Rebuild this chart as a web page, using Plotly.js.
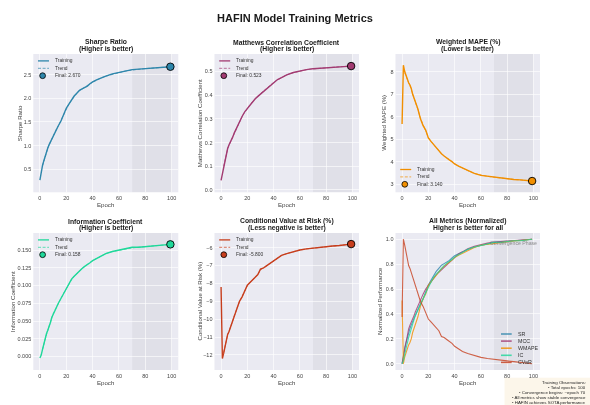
<!DOCTYPE html>
<html><head><meta charset="utf-8">
<script src="https://cdn.plot.ly/plotly-3.0.1.min.js"></script>
<style>html,body{margin:0;padding:0;background:#fff;}#chart{width:590px;height:405px;will-change:transform;}</style>
</head><body><div id="chart"></div>
<script>
// ---------------- data ----------------
const epochs = [0,1,2,3,4,5,6,7,8,9,10,12,14,16,18,20,22,24,26,28,30,32,34,36,38,40,43,46,50,55,60,65,70,75,80,85,90,95,99];

const sharpe      = [0.27,0.45,0.58,0.68,0.78,0.88,0.95,1.02,1.08,1.14,1.20,1.32,1.42,1.52,1.66,1.79,1.88,1.97,2.05,2.11,2.17,2.20,2.23,2.26,2.31,2.35,2.39,2.43,2.47,2.52,2.55,2.58,2.61,2.62,2.63,2.64,2.65,2.66,2.67];
const sharpeTrend = [null,null,0.57,0.68,0.78,0.87,0.95,1.01,1.08,1.14,1.20,1.32,1.42,1.53,1.66,1.78,1.88,1.96,2.04,2.11,2.16,2.20,2.24,2.27,2.31,2.34,2.39,2.43,2.47,2.51,2.55,2.58,2.60,2.62,2.63,2.64,2.65,2.66,2.67];

const mcc      = [0.04,0.07,0.10,0.13,0.155,0.175,0.19,0.20,0.21,0.225,0.24,0.265,0.29,0.31,0.33,0.345,0.36,0.375,0.385,0.395,0.405,0.415,0.425,0.435,0.445,0.455,0.466,0.474,0.486,0.496,0.503,0.508,0.512,0.514,0.516,0.518,0.520,0.522,0.523];
const mccTrend = [null,null,0.10,0.128,0.153,0.173,0.188,0.20,0.212,0.225,0.238,0.265,0.288,0.31,0.328,0.345,0.36,0.373,0.385,0.396,0.406,0.416,0.426,0.436,0.445,0.454,0.465,0.475,0.486,0.495,0.502,0.508,0.511,0.514,0.516,0.518,0.520,0.522,0.523];

const wmape      = [5.67,8.28,8.00,7.80,7.62,7.50,7.40,7.25,7.00,6.85,6.70,6.35,5.90,5.60,5.40,5.05,4.90,4.75,4.60,4.45,4.35,4.25,4.15,4.08,4.00,3.90,3.80,3.72,3.60,3.48,3.39,3.35,3.31,3.27,3.24,3.21,3.19,3.17,3.14];
const wmapeTrend = [null,null,7.95,7.78,7.63,7.50,7.38,7.22,7.02,6.86,6.68,6.32,5.93,5.62,5.38,5.08,4.90,4.75,4.60,4.46,4.35,4.25,4.16,4.08,4.00,3.91,3.80,3.71,3.60,3.48,3.40,3.35,3.31,3.27,3.24,3.21,3.19,3.17,3.14];

const ic      = [-0.002,0.002,0.010,0.018,0.026,0.032,0.037,0.042,0.048,0.055,0.060,0.067,0.075,0.082,0.089,0.096,0.102,0.109,0.113,0.117,0.121,0.124,0.127,0.129,0.132,0.135,0.138,0.142,0.145,0.148,0.150,0.152,0.154,0.154,0.155,0.156,0.156,0.157,0.158];
const icTrend = [null,null,0.010,0.018,0.025,0.031,0.037,0.042,0.048,0.054,0.060,0.068,0.075,0.082,0.089,0.096,0.102,0.108,0.113,0.117,0.121,0.124,0.127,0.130,0.132,0.135,0.138,0.141,0.145,0.148,0.150,0.152,0.153,0.154,0.155,0.156,0.156,0.157,0.158];

const cvar      = [-8.20,-12.20,-11.90,-11.50,-11.15,-10.85,-10.70,-10.50,-10.30,-10.05,-9.80,-9.40,-9.00,-8.75,-8.45,-8.10,-7.95,-7.80,-7.70,-7.50,-7.20,-7.15,-7.05,-6.95,-6.85,-6.70,-6.55,-6.43,-6.33,-6.22,-6.13,-6.07,-6.02,-5.98,-5.95,-5.91,-5.88,-5.84,-5.80];
const cvarTrend = [null,null,-11.85,-11.50,-11.15,-10.88,-10.68,-10.50,-10.28,-10.05,-9.82,-9.40,-9.02,-8.74,-8.43,-8.12,-7.95,-7.80,-7.68,-7.48,-7.24,-7.14,-7.05,-6.95,-6.84,-6.70,-6.56,-6.44,-6.33,-6.22,-6.13,-6.07,-6.02,-5.98,-5.95,-5.91,-5.88,-5.84,-5.80];

const xTickVals = [0,20,40,60,80,100];
const convergenceStart = 70, convergenceEnd = 100;
const normLabels = ['SR','MCC','WMAPE','IC','CVaR'];
const noteLines = ['Training Observations:','• Total epochs: 100','• Convergence begins: ~epoch 70','• All metrics show stable convergence','• HAFIN achieves SOTA performance'];

// ---------------- layout helpers ----------------
const W = 590, H = 405;
const px = x => x / W, py = y => 1 - y / H;
const FONT = 'Liberation Sans, Arial, sans-serif';
const cols = [[33.3,178.3],[214.5,359],[395.5,540]];
const rows = [[54,192.3],[233,370]];

const panels = [
  {title:'Sharpe Ratio', sub:'(Higher is better)', ylab:'Sharpe Ratio', y:sharpe, t:sharpeTrend, color:'#2E86AB', range:[0.01,2.94], tickvals:[0.5,1.0,1.5,2.0,2.5], fmt:'.1f', leg:'top', ylabX:19},
  {title:'Matthews Correlation Coefficient', sub:'(Higher is better)', ylab:'Matthews Correlation Coefficient', y:mcc, t:mccTrend, color:'#A23B72', range:[-0.01,0.574], tickvals:[0,0.1,0.2,0.3,0.4,0.5], fmt:'.1f', leg:'top', ylabX:199},
  {title:'Weighted MAPE (%)', sub:'(Lower is better)', ylab:'Weighted MAPE (%)', y:wmape, t:wmapeTrend, color:'#F18F01', range:[2.64,8.78], tickvals:[3,4,5,6,7,8], fmt:'d', leg:'bottom', ylabX:383.5},
  {title:'Information Coefficient', sub:'(Higher is better)', ylab:'Information Coefficient', y:ic, t:icTrend, color:'#1FD89A', range:[-0.019,0.174], tickvals:[0,0.025,0.05,0.075,0.1,0.125,0.15], fmt:'.3f', leg:'top', ylabX:12.7},
  {title:'Conditional Value at Risk (%)', sub:'(Less negative is better)', ylab:'Conditional Value at Risk (%)', y:cvar, t:cvarTrend, color:'#C73E1D', range:[-12.84,-5.18], tickvals:[-12,-11,-10,-9,-8,-7,-6], fmt:'d', leg:'top', ylabX:199},
  {title:'All Metrics (Normalized)', sub:'Higher is better for all', ylab:'Normalized Performance', range:[-0.05,1.05], tickvals:[0,0.2,0.4,0.6,0.8,1.0], fmt:'.1f', ylabX:379.5}
];

const data = [], shapes = [], annotations = [];
const layout = {
  width:W, height:H, margin:{l:0,r:0,t:0,b:0},
  paper_bgcolor:'#ffffff', plot_bgcolor:'#EAEAF2', showlegend:false,
  font:{family:FONT, color:'#333'},
  title:{text:'<b>HAFIN Model Training Metrics</b>', x:0.5, xanchor:'center', y:py(18.5), yref:'container', yanchor:'middle', font:{family:FONT, size:11, color:'#1a1a1a'}},
  shapes, annotations
};

function norm(arr, invert){
  const mn = Math.min(...arr), mx = Math.max(...arr);
  return arr.map(v => invert ? 1 - (v - mn)/(mx - mn) : (v - mn)/(mx - mn));
}

panels.forEach((p, i) => {
  const c = cols[i % 3], r = rows[Math.floor(i / 3)];
  const s = i === 0 ? '' : String(i + 1);
  const xa = 'x' + s, ya = 'y' + s;
  layout['xaxis' + s] = {domain:[px(c[0]), px(c[1])], anchor:ya, range:[-5,105], tickvals:xTickVals,
    showgrid:true, gridcolor:'rgba(255,255,255,0.75)', gridwidth:0.8, zeroline:false, showline:false, ticks:'',
    tickfont:{size:5.5, color:'#444', family:FONT}, ticklabelstandoff:1, fixedrange:true};
  layout['yaxis' + s] = {domain:[py(r[1]), py(r[0])], anchor:xa, range:p.range, tickvals:p.tickvals, tickformat:p.fmt,
    showgrid:true, gridcolor:'rgba(255,255,255,0.75)', gridwidth:0.8, zeroline:false, showline:false, ticks:'',
    tickfont:{size:5.5, color:'#444', family:FONT}, ticklabelstandoff:1, fixedrange:true};

  // convergence phase band
  shapes.push({type:'rect', xref:xa, yref:ya, x0:convergenceStart, x1:convergenceEnd, y0:p.range[0], y1:p.range[1],
    fillcolor:'rgba(128,128,128,0.09)', line:{width:0}, layer:'below'});

  const cx = (c[0] + c[1]) / 2;
  // titles
  annotations.push({text:'<b>' + p.title + '</b>', xref:'paper', yref:'paper', x:px(cx), y:py(r[0] - 11.8), xanchor:'center', yanchor:'middle', showarrow:false, font:{size:6.8, color:'#1a1a1a', family:FONT}});
  annotations.push({text:'<b>' + p.sub + '</b>', xref:'paper', yref:'paper', x:px(cx), y:py(r[0] - 4.6), xanchor:'center', yanchor:'middle', showarrow:false, font:{size:6.8, color:'#1a1a1a', family:FONT}});
  // axis titles
  annotations.push({text:'Epoch', xref:'paper', yref:'paper', x:px(cx), y:py(r[1] + 12.2), xanchor:'center', yanchor:'middle', showarrow:false, font:{size:6.1, color:'#444', family:FONT}});
  annotations.push({text:p.ylab, xref:'paper', yref:'paper', x:px(p.ylabX), y:py((r[0] + r[1]) / 2), xanchor:'center', yanchor:'middle', textangle:-90, showarrow:false, font:{size:6.1, color:'#444', family:FONT}});

  if (i < 5) {
    const last = p.y.length - 1;
    data.push({type:'scatter', mode:'lines', x:epochs, y:p.y, xaxis:xa, yaxis:ya, line:{color:p.color, width:1.4}, hoverinfo:'skip'});
    data.push({type:'scatter', mode:'lines', x:epochs, y:p.t, xaxis:xa, yaxis:ya, opacity:0.7, connectgaps:false, line:{color:p.color, width:1, dash:'3px,1.6px'}, hoverinfo:'skip'});
    data.push({type:'scatter', mode:'markers', x:[epochs[last]], y:[p.y[last]], xaxis:xa, yaxis:ya, marker:{color:p.color, size:7.5, line:{color:'#000', width:0.9}}, hoverinfo:'skip'});

    // legend (drawn manually for compact spacing)
    const step = 7.4;
    const y0 = p.leg === 'top' ? r[0] + 6.9 : r[1] - 8 - 2 * step;
    const lx0 = c[0] + 4.7, lx1 = c[0] + 15.7, tx = c[0] + 19.8, mx = c[0] + 9.3;
    const items = ['Training', 'Trend', 'Final: ' + p.y[last].toFixed(3)];
    items.forEach((lab, k) => {
      const yy = y0 + k * step;
      if (k === 0) shapes.push({type:'line', xref:'paper', yref:'paper', x0:px(lx0), x1:px(lx1), y0:py(yy), y1:py(yy), line:{color:p.color, width:1.3}});
      if (k === 1) shapes.push({type:'line', xref:'paper', yref:'paper', x0:px(lx0), x1:px(lx1), y0:py(yy), y1:py(yy), opacity:0.7, line:{color:p.color, width:1, dash:'3px,1.6px'}});
      if (k === 2) shapes.push({type:'circle', xref:'paper', yref:'paper', x0:px(mx - 2.9), x1:px(mx + 2.9), y0:py(yy + 2.9), y1:py(yy - 2.9), fillcolor:p.color, line:{color:'#000', width:0.8}});
      annotations.push({text:lab, xref:'paper', yref:'paper', x:px(tx), y:py(yy), xanchor:'left', yanchor:'middle', showarrow:false, font:{size:4.9, color:'#333', family:FONT}});
    });
  } else {
    const series = [
      {y:norm(sharpe,false), color:'#2E86AB'},
      {y:norm(mcc,false), color:'#A23B72'},
      {y:norm(wmape,true), color:'#F18F01'},
      {y:norm(ic,false), color:'#1FD89A'},
      {y:norm(cvar,true), color:'#C73E1D'}
    ];
    series.forEach((sr, k) => {
      data.push({type:'scatter', mode:'lines', x:epochs, y:sr.y, xaxis:xa, yaxis:ya, opacity:0.8, line:{color:sr.color, width:1.1}, hoverinfo:'skip'});
      const yy = 334 + k * 7.1;
      shapes.push({type:'line', xref:'paper', yref:'paper', x0:px(c[1] - 39), x1:px(c[1] - 28.3), y0:py(yy), y1:py(yy), opacity:0.8, line:{color:sr.color, width:1.6}});
      annotations.push({text:normLabels[k], xref:'paper', yref:'paper', x:px(c[1] - 24), y:py(yy), xanchor:'left', yanchor:'middle', showarrow:false, font:{size:5.3, color:'#333', family:FONT}});
    });
    annotations.push({text:'Convergence Phase', xref:xa, yref:ya, x:(convergenceStart + convergenceEnd) / 2, y:0.968, xanchor:'center', yanchor:'middle', showarrow:false, font:{size:5.2, color:'rgba(110,110,110,0.75)', family:FONT}});
  }
});

// observations note box (bottom right)
shapes.push({type:'rect', xref:'paper', yref:'paper', x0:px(504.5), x1:px(590), y0:py(405), y1:py(377.7), fillcolor:'rgba(245,222,179,0.28)', line:{width:0}, layer:'above'});
noteLines.forEach((t, k) => {
  annotations.push({text:t, xref:'paper', yref:'paper', x:px(588), y:py(382.2 + k * 5.0), xanchor:'right', yanchor:'middle', align:'right', showarrow:false, font:{size:4.4, color:'#222', family:FONT}});
});

Plotly.newPlot('chart', data, layout, {staticPlot:true, displayModeBar:false});
</script>
</body></html>
